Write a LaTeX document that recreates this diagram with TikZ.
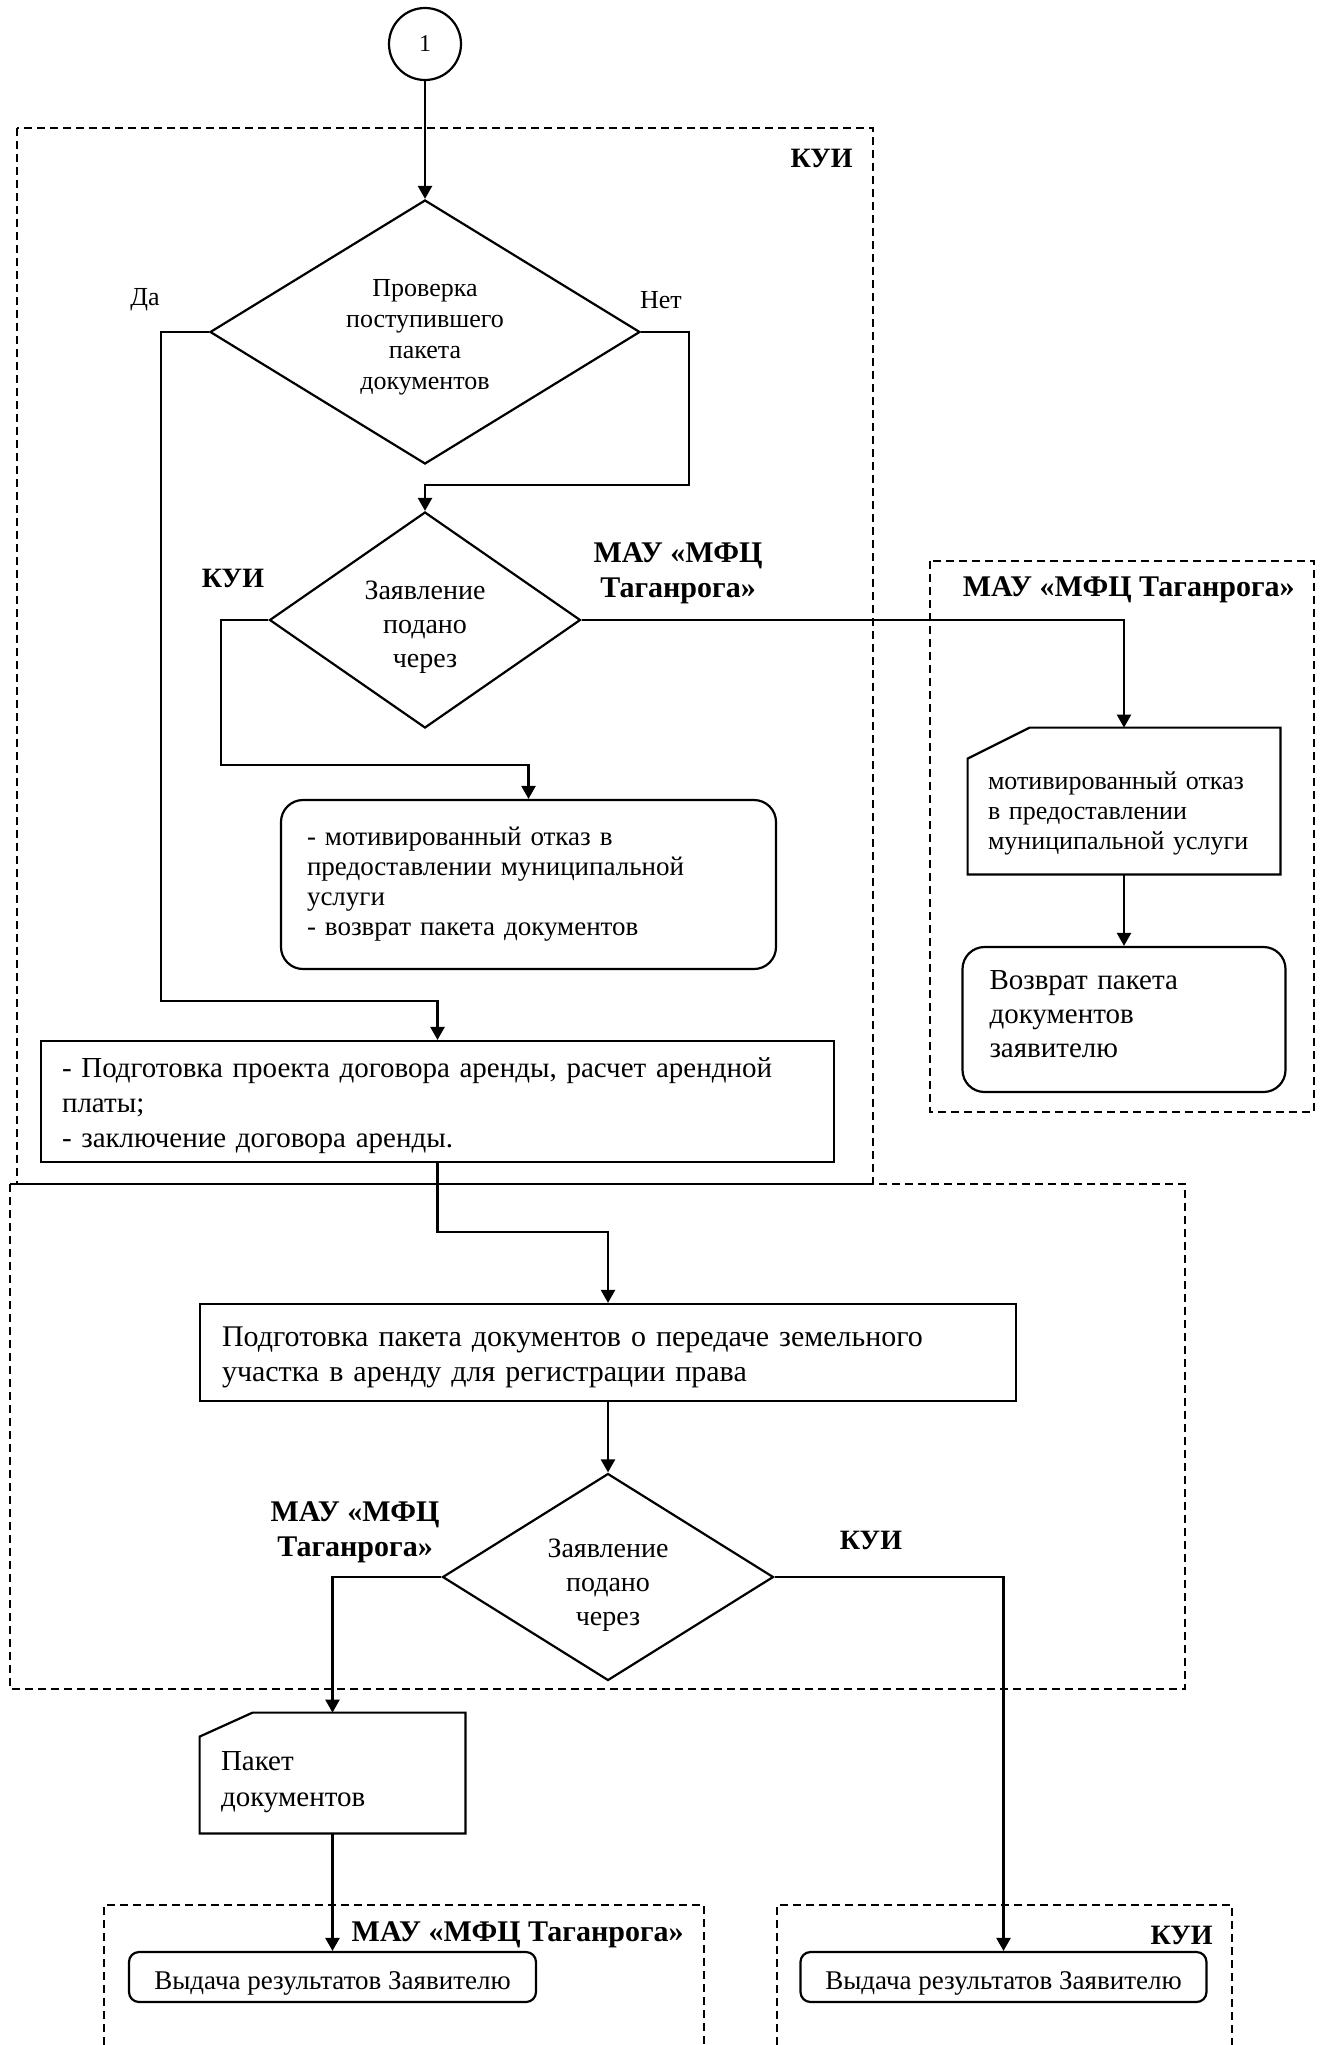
\documentclass[tikz,border=0pt]{standalone}
\usepackage{fontspec}
\setmainfont{Liberation Serif}
\usetikzlibrary{shapes.geometric,arrows.meta,calc}
\newcommand\fcirc{\fontsize{12pt}{14pt}\selectfont}
\newcommand\fdA{\fontsize{13pt}{15.5pt}\selectfont}
\newcommand\fdB{\fontsize{14pt}{17pt}\selectfont}
\newcommand\frA{\fontsize{13.5pt}{15pt}\selectfont}
\newcommand\fdocA{\fontsize{13pt}{15pt}\selectfont}
\newcommand\frB{\fontsize{14.5pt}{17pt}\selectfont}
\newcommand\fbA{\fontsize{14.5pt}{17.5pt}\selectfont}
\newcommand\fbB{\fontsize{15pt}{17.5pt}\selectfont}
\newcommand\fdocB{\fontsize{14.5pt}{18pt}\selectfont}
\newcommand\fout{\fontsize{13.5pt}{16pt}\selectfont}
\newcommand\flab{\fontsize{14pt}{16.5pt}\selectfont\bfseries}
\newcommand\flabm{\fontsize{15pt}{17.5pt}\selectfont\bfseries}
\newcommand\fyn{\fontsize{13pt}{15pt}\selectfont}
\newcommand\up[1]{\rule{0pt}{#1}}
\begin{document}
\begin{tikzpicture}[x=0.5pt,y=-0.5pt,
  shapeline/.style={line width=1.1pt},
  frame/.style={draw,shapeline,inner ysep=0pt},
  conn/.style={line width=1.2pt,-{Triangle[length=6.5pt,width=7pt]}},
  zone/.style={line width=1pt,dash pattern=on 4pt off 2.5pt},
  dia/.style={draw,diamond,shapeline,inner sep=-20pt,align=center},
  rbox/.style={draw,shapeline,rounded corners=11pt,inner ysep=0pt},
  doc/.style={inner ysep=0pt,align=left},
  lab/.style={inner sep=0pt,align=center,font=\flab},
  labm/.style={inner sep=0pt,align=center,font=\flabm}
]
\useasboundingbox (0,0) rectangle (1322,2045);
% zones
\draw[zone] (17,128) rectangle (873,1184);
\draw[zone] (930,561) rectangle (1314,1112);
\draw[zone] (10,1184) rectangle (1185,1689);
\draw[zone] (104,2045) -- (104,1905) -- (704,1905) -- (704,2045);
\draw[zone] (777,2045) -- (777,1905) -- (1232,1905) -- (1232,2045);
% zone labels
\node[lab,anchor=east] (zA) at (853,158) {КУИ};
\node[labm,anchor=east] (zB) at (1295,590) {МАУ «МФЦ Таганрога»};
\node[labm,anchor=east] (zD) at (684,1935) {МАУ «МФЦ Таганрога»};
\node[lab,anchor=east] (zE) at (1213,1935) {КУИ};
% nodes
\node[draw,circle,shapeline,minimum size=36pt,inner sep=0pt,font=\fcirc] (c1) at (425,44) {1};
\node[dia,minimum width=215pt,minimum height=132pt,font=\fdA] (d1) at (425,332)
  {\up{14pt}Проверка\\поступившего\\пакета\\документов};
\node[dia,minimum width=155.5pt,minimum height=108pt,font=\fdB] (d2) at (425,620)
  {\up{16.6pt}Заявление\\подано\\через};
\node[rbox,minimum height=84.5pt,text width=221.5pt,inner xsep=13pt,align=left,font=\frA] (r1) at (528.5,884.5)
  {- мотивированный отказ в\\предоставлении муниципальной\\услуги\\- возврат пакета документов};
\node[doc,minimum width=156pt,minimum height=73pt,text width=136pt,inner xsep=10pt,font=\fdocA] (doc1) at (1124,801)
  {\up{21pt}мотивированный отказ\\в предоставлении\\муниципальной услуги};
\draw[shapeline] ($(doc1.north west)+(0,31)$) -- ($(doc1.north west)+(62,0)$) -- (doc1.north east)
  -- (doc1.south east) -- (doc1.south west) -- cycle;
\node[rbox,minimum height=72.5pt,text width=134.5pt,inner xsep=13.5pt,align=left,font=\frB] (r2) at (1124,1019.5)
  {Возврат пакета\\документов\\заявителю\rule[-6pt]{0pt}{6pt}};
\node[frame,minimum height=60.5pt,text width=375.5pt,inner xsep=10.5pt,align=left,font=\fbA] (b3) at (437.5,1101.5)
  {\up{13.9pt}- Подготовка проекта договора аренды, расчет арендной\\платы;\\- заключение договора аренды.};
\node[frame,minimum height=48.5pt,text width=386pt,inner xsep=11pt,align=left,font=\fbB] (b4) at (608,1352.5)
  {\up{15.2pt}Подготовка пакета документов о передаче земельного\\участка в аренду для регистрации права};
\node[dia,minimum width=165.5pt,minimum height=103.5pt,font=\fdB] (d3) at (608,1577)
  {\up{17.6pt}Заявление\\подано\\через};
\node[doc,minimum width=132.5pt,minimum height=60pt,text width=111.5pt,inner xsep=10.5pt,font=\fdocB] (doc2) at (332.5,1773)
  {\up{18.6pt}Пакет\\документов};
\draw[shapeline] ($(doc2.north west)+(0,24)$) -- ($(doc2.north west)+(53,0)$) -- (doc2.north east)
  -- (doc2.south east) -- (doc2.south west) -- cycle;
\node[rbox,rounded corners=5pt,minimum width=203.5pt,minimum height=25pt,font=\fout] (o1) at (332.5,1977)
  {\up{15.3pt}Выдача результатов Заявителю};
\node[rbox,rounded corners=5pt,minimum width=203pt,minimum height=25pt,font=\fout] (o2) at (1003.5,1977)
  {\up{15.3pt}Выдача результатов Заявителю};
% branch labels
\node[inner sep=0pt,font=\fyn] (yes) at (145,300) {Да};
\node[inner sep=0pt,font=\fyn] (no) at (661,300) {Нет};
\node[lab] (lk1) at (233,578) {КУИ};
\node[labm] (lm1) at (678,573) {МАУ «МФЦ\\Таганрога»};
\node[labm] (lm2) at (355,1532) {МАУ «МФЦ\\Таганрога»};
\node[lab] (lk2) at (871,1540) {КУИ};
% connectors
\draw[conn] (c1.south) -- (d1.north);
\draw[conn] (d1.west) -| (161,1001) -| (b3.north);
\draw[conn] (d1.east) -| (689,485) -| (d2.north);
\draw[conn] (d2.west) -| (221,765) -| (r1.north);
\draw[conn] (d2.east) -| (doc1.north);
\draw[conn] (doc1.south) -- (r2.north);
\draw[conn] (b3.south) |- (608,1232) -- (b4.north);
\draw[conn] (b4.south) -- (d3.north);
\draw[conn] (d3.west) -| (doc2.north);
\draw[conn] (doc2.south) -- (o1.north);
\draw[conn] (d3.east) -| (o2.north);
\end{tikzpicture}
\end{document}
